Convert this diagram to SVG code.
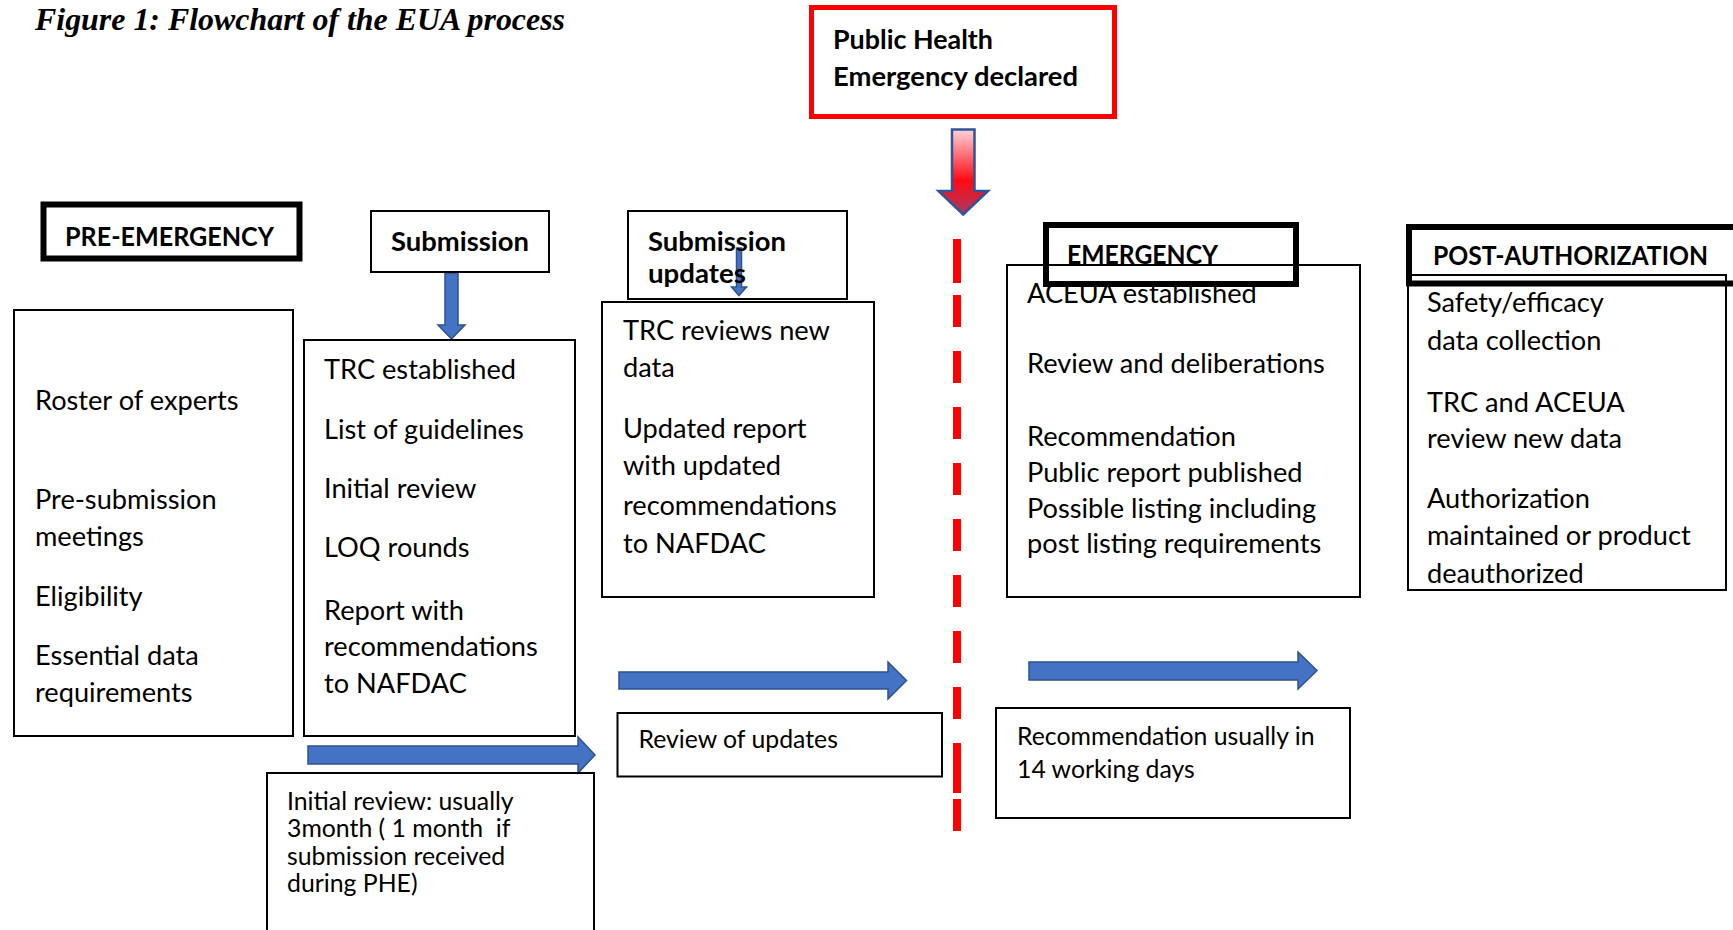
<svg xmlns="http://www.w3.org/2000/svg" width="1733" height="930" viewBox="0 0 1733 930">
  <defs>
    <style>
      .box { fill: none; stroke: #000; stroke-width: 2; }
      .hdr { fill: none; stroke: #000; stroke-width: 6; }
      .t { font-family: Lato, "Noto Sans", "Liberation Sans", sans-serif; font-size: 27.2px; fill: #000; }
      .s { font-size: 24.8px; }
      .b { font-weight: bold; font-size: 26.5px; }
      .arrow { fill: #4472c4; stroke: #2f528f; stroke-width: 1.5; }
      .dash { fill: #ff0000; }
    </style>
    <linearGradient id="redFade" x1="0" y1="0" x2="0" y2="1">
      <stop offset="0" stop-color="#fcd3d9"/>
      <stop offset="0.6" stop-color="#ff0a14"/>
      <stop offset="1" stop-color="#a83a62"/>
    </linearGradient>
  </defs>

  <rect width="1733" height="930" fill="#fff"/>

  <text x="35" y="30" font-family="Liberation Serif, serif" font-size="31.5" font-weight="bold" font-style="italic" textLength="530" lengthAdjust="spacingAndGlyphs">Figure 1: Flowchart of the EUA process</text>

  <!-- phase boundary: emergency declaration -->
  <g id="phe">
    <rect x="811.5" y="7.5" width="303" height="109" fill="none" stroke="#ff0000" stroke-width="5"/>
    <text class="t b" x="833" y="49" textLength="160" lengthAdjust="spacingAndGlyphs">Public Health</text>
    <text class="t b" x="833" y="86" textLength="245" lengthAdjust="spacingAndGlyphs">Emergency declared</text>
  </g>

  <g id="connectors">
    <!-- declaration arrow -->
    <polygon points="952,129.5 974.5,129.5 974.5,191 988,191 963.2,214.5 938.5,191 952,191" fill="url(#redFade)" stroke="#2f5597" stroke-width="2.5"/>
    <!-- dashed boundary line -->
    <g class="dash">
      <rect x="953" y="239" width="8" height="44"/>
      <rect x="953" y="295" width="8" height="32"/>
      <rect x="953" y="351" width="8" height="32"/>
      <rect x="953" y="407" width="8" height="32"/>
      <rect x="953" y="463" width="8" height="32"/>
      <rect x="953" y="519" width="8" height="32"/>
      <rect x="953" y="575" width="8" height="32"/>
      <rect x="953" y="631" width="8" height="32"/>
      <rect x="953" y="687" width="8" height="32"/>
      <rect x="953" y="743" width="8" height="50"/>
      <rect x="953" y="799" width="8" height="32"/>
    </g>
    <!-- Submission to TRC -->
    <polygon class="arrow" points="445,273 458,273 458,325 465,325 451.5,339 438,325 445,325"/>
    <!-- small arrow inside submission updates -->
    <polygon class="arrow" points="736.5,248 741.5,248 741.5,287 746.5,287 739,295.5 731.5,287 736.5,287" stroke-width="1"/>
    <!-- horizontal time arrows -->
    <polygon class="arrow" points="308,746 578,746 578,737 595,755 578,773 578,764 308,764"/>
    <polygon class="arrow" points="619,672 888,672 888,662 906.5,680.5 888,699 888,689 619,689"/>
    <polygon class="arrow" points="1029,662 1298,662 1298,652 1317,670.5 1298,689 1298,680 1029,680"/>
  </g>

  <g id="pre-emergency">
    <rect class="hdr" x="43.5" y="204.5" width="256" height="54" stroke-width="5"/>
    <text class="t b" x="65" y="246" textLength="209" lengthAdjust="spacingAndGlyphs">PRE-EMERGENCY</text>
  </g>

  <g id="pre-emergency-steps">
    <rect class="box" x="14" y="310" width="279" height="426"/>
    <text class="t" x="35" y="410">Roster of experts</text>
    <text class="t" x="35" y="509">Pre-submission</text>
    <text class="t" x="35" y="546">meetings</text>
    <text class="t" x="35" y="606">Eligibility</text>
    <text class="t" x="35" y="665">Essential data</text>
    <text class="t" x="35" y="702">requirements</text>
  </g>

  <g id="submission">
    <rect class="box" x="371" y="211" width="178" height="61"/>
    <text class="t b" x="391" y="251" textLength="138" lengthAdjust="spacingAndGlyphs">Submission</text>
  </g>

  <g id="submission-steps">
    <rect class="box" x="304" y="340" width="271" height="396"/>
    <text class="t" x="324" y="379">TRC established</text>
    <text class="t" x="324" y="439">List of guidelines</text>
    <text class="t" x="324" y="498">Initial review</text>
    <text class="t" x="324" y="557">LOQ rounds</text>
    <text class="t" x="324" y="620">Report with</text>
    <text class="t" x="324" y="656">recommendations</text>
    <text class="t" x="324" y="693">to NAFDAC</text>
  </g>

  <g id="initial-review-time">
    <rect class="box" x="267" y="773" width="327" height="200"/>
    <text class="t s" x="287" y="810">Initial review: usually</text>
    <text class="t s" x="287" y="837" xml:space="preserve">3month ( 1 month  if</text>
    <text class="t s" x="287" y="865">submission received</text>
    <text class="t s" x="287" y="892">during PHE)</text>
  </g>

  <g id="submission-updates">
    <rect class="box" x="628" y="211" width="219" height="88"/>
    <text class="t b" x="648" y="251" textLength="138" lengthAdjust="spacingAndGlyphs">Submission</text>
    <text class="t b" x="648" y="283" textLength="98" lengthAdjust="spacingAndGlyphs">updates</text>
  </g>

  <g id="update-steps">
    <rect class="box" x="602" y="302" width="272" height="295"/>
    <text class="t" x="623" y="340">TRC reviews new</text>
    <text class="t" x="623" y="377">data</text>
    <text class="t" x="623" y="438">Updated report</text>
    <text class="t" x="623" y="475">with updated</text>
    <text class="t" x="623" y="515">recommendations</text>
    <text class="t" x="623" y="553">to NAFDAC</text>
  </g>

  <g id="review-updates">
    <rect class="box" x="617.5" y="713" width="324.5" height="63.5" stroke-width="2.5"/>
    <text class="t s" x="638.5" y="748">Review of updates</text>
  </g>

  <g id="emergency-steps">
    <rect class="box" x="1007" y="265" width="353" height="332"/>
    <text class="t" x="1027" y="303">ACEUA established</text>
    <text class="t" x="1027" y="373">Review and deliberations</text>
    <text class="t" x="1027" y="446">Recommendation</text>
    <text class="t" x="1027" y="482">Public report published</text>
    <text class="t" x="1027" y="518">Possible listing including</text>
    <text class="t" x="1027" y="553">post listing requirements</text>
  </g>

  <g id="emergency">
    <rect class="hdr" x="1046" y="225" width="250" height="59" stroke-width="5"/>
    <text class="t b" x="1067" y="264" textLength="151" lengthAdjust="spacingAndGlyphs">EMERGENCY</text>
  </g>

  <g id="recommendation-time">
    <rect class="box" x="996" y="708" width="354" height="110"/>
    <text class="t s" x="1017" y="745">Recommendation usually in</text>
    <text class="t s" x="1017" y="778">14 working days</text>
  </g>

  <g id="post-authorization-steps">
    <rect class="box" x="1408" y="275" width="318" height="315"/>
    <text class="t" x="1427" y="312">Safety/efficacy</text>
    <text class="t" x="1427" y="350">data collection</text>
    <text class="t" x="1427" y="412">TRC and ACEUA</text>
    <text class="t" x="1427" y="448">review new data</text>
    <text class="t" x="1427" y="508">Authorization</text>
    <text class="t" x="1427" y="545">maintained or product</text>
    <text class="t" x="1427" y="583">deauthorized</text>
  </g>

  <g id="post-authorization">
    <rect class="hdr" x="1409" y="227" width="340" height="56.5"/>
    <text class="t b" x="1433" y="265" textLength="275" lengthAdjust="spacingAndGlyphs">POST-AUTHORIZATION</text>
  </g>
</svg>
